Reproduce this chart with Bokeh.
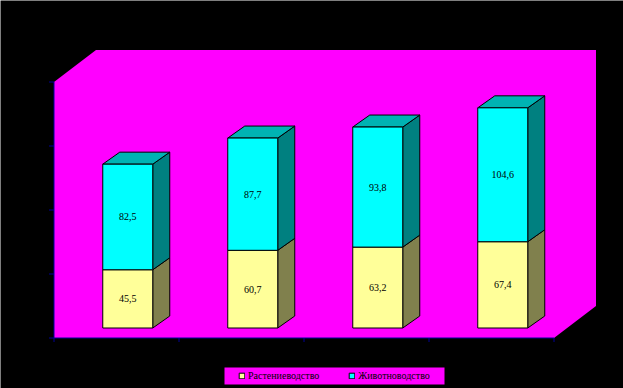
from bokeh.plotting import figure
from bokeh.embed import file_html
from bokeh.resources import INLINE
from bokeh.models import Legend, LegendItem
from bokeh.core.properties import value

categories = [0, 1, 2, 3]
crops = [45.5, 60.7, 63.2, 67.4]
livestock = [82.5, 87.7, 93.8, 104.6]
crop_label = ["45,5", "60,7", "63,2", "67,4"]
live_label = ["82,5", "87,7", "93,8", "104,6"]
names = ["Растениеводство", "Животноводство"]
y_ticks = [0, 50, 100, 150, 200]
x_ticks = [0, 1, 2, 3, 4]

PX_X, PX_Y = 125.0, 1.28
W, H = 623, 388
ox, oy = 53.5, 327.5
x0 = (0 - ox) / PX_X
x1 = (W - ox) / PX_X
y1 = oy / PX_Y
y0 = (oy - H) / PX_Y

p = figure(width=W, height=H, x_range=(x0, x1), y_range=(y0, y1),
           output_backend="svg", toolbar_location=None, min_border=0,
           background_fill_color="black", border_fill_color="black",
           outline_line_color=None)
p.axis.visible = False
p.grid.visible = False

dx_w, dy_w = 42 / PX_X, 32 / PX_Y      # wall depth
dx_b, dy_b = 17 / PX_X, 12 / PX_Y      # bar depth
floor = -10 / PX_Y
left = 48.75 / PX_X
bw = 50 / PX_X
cx = left + bw / 2
n = len(categories)
top_wall = floor + y_ticks[-1] + dy_w

p.patch([0, n, n + dx_w, n + dx_w, dx_w, 0],
        [floor, floor, floor + dy_w, top_wall, top_wall, floor + y_ticks[-1]],
        fill_color="#FF00FF", line_color=None)

# axis lines & ticks
AX = "#000099"
p.segment([0, 0], [floor, floor], [0, n], [floor + y_ticks[-1], floor], line_color=AX, line_width=1)
p.segment([-5 / PX_X] * 5, [floor + t for t in y_ticks], [0] * 5, [floor + t for t in y_ticks],
          line_color=AX, line_width=1)
p.segment(x_ticks, [floor] * 5, x_ticks, [floor - 4 / PX_Y] * 5, line_color=AX, line_width=1)

def side(i, a, b):
    x = i + left + bw
    return [x, x + dx_b, x + dx_b, x], [a, a + dy_b, b + dy_b, b]

def top(i, h):
    x = i + left
    return [x, x + dx_b, x + bw + dx_b, x + bw], [h, h + dy_b, h + dy_b, h]

kw = dict(line_color="black", line_width=1)
for i in categories:
    a, b = crops[i], crops[i] + livestock[i]
    xs, ys = side(i, 0, a)
    p.patch(xs, ys, fill_color="#80804D", **kw)
    xs, ys = side(i, a, b)
    p.patch(xs, ys, fill_color="#008080", **kw)
    xs, ys = top(i, b)
    p.patch(xs, ys, fill_color="#00B3B3", **kw)

lefts = [i + left for i in categories]
rights = [i + left + bw for i in categories]
r1 = p.quad(left=lefts, right=rights, bottom=[0] * n, top=crops, fill_color="#FFFF99", **kw)
r2 = p.quad(left=lefts, right=rights, bottom=crops, top=[a + b for a, b in zip(crops, livestock)],
            fill_color="#00FFFF", **kw)

tk = dict(text_font=value("Liberation Serif"), text_font_size="10px", text_color="black",
          text_align="center", text_baseline="middle")
p.text([i + cx for i in categories], [c / 2 for c in crops], text=crop_label, **tk)
p.text([i + cx for i in categories], [c + l / 2 for c, l in zip(crops, livestock)], text=live_label, **tk)

# legend panel
p.quad(left=[(224 - ox) / PX_X], right=[(444 - ox) / PX_X],
       top=[(oy - 367) / PX_Y], bottom=[(oy - 384) / PX_Y],
       fill_color="#FF00FF", line_color=None)

legend = Legend(items=[LegendItem(label=names[0], renderers=[r1]), LegendItem(label=names[1], renderers=[r2])],
                orientation="horizontal", location=(238, 7),
                background_fill_alpha=0, border_line_color=None,
                label_text_font="Liberation Serif", label_text_font_size="10px", label_text_color="black",
                glyph_width=7, glyph_height=7, spacing=29, padding=0, margin=0, label_standoff=3)
p.add_layout(legend, "center")

open("out.html", "w").write(file_html(p, INLINE))
